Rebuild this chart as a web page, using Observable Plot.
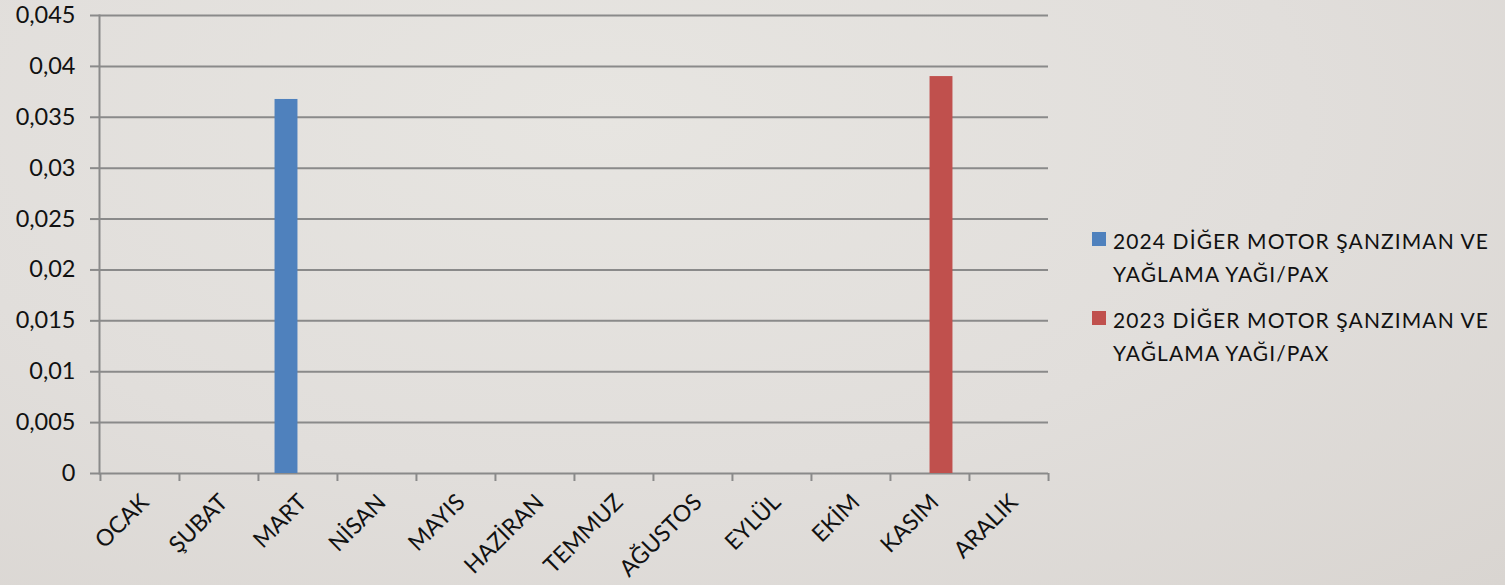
<!DOCTYPE html>
<html><head><meta charset="utf-8">
<script src="https://cdn.jsdelivr.net/npm/d3@7"></script>
<script src="https://cdn.jsdelivr.net/npm/@observablehq/plot@0.6"></script>
<style>
html,body{margin:0;padding:0;}
body{width:1505px;height:585px;overflow:hidden;position:relative;
  background:radial-gradient(ellipse at 40% 20%, #e7e5e1 0%, #e1dedb 55%, #d9d5d1 100%);
  font-family:Lato,"Open Sans",sans-serif;color:#111;}
#chart{position:absolute;left:0;top:0;}
#legend{position:absolute;left:1092px;top:224px;font-size:21px;line-height:33px;letter-spacing:1.1px;}
.item{display:flex;align-items:flex-start;margin-bottom:13px;}
.sw{width:14px;height:14px;margin-top:8px;margin-right:7px;flex:none;}
</style></head><body>
<div id="chart"></div>
<div id="legend"></div>
<script>
const months = ["OCAK","ŞUBAT","MART","NİSAN","MAYIS","HAZİRAN","TEMMUZ","AĞUSTOS","EYLÜL","EKİM","KASIM","ARALIK"];
const values2024 = [0,0,0.03675,0,0,0,0,0,0,0,0,0];
const values2023 = [0,0,0,0,0,0,0,0,0,0,0.0390,0];
const seriesLabels = [["2024 DİĞER MOTOR ŞANZIMAN VE","YAĞLAMA YAĞI/PAX"],["2023 DİĞER MOTOR ŞANZIMAN VE","YAĞLAMA YAĞI/PAX"]];
const seriesColors = ["#4f81bd","#c0504d"];
const yTicks = [0,0.005,0.01,0.015,0.02,0.025,0.03,0.035,0.04,0.045];

const W = 1505, H = 585, ML = 99, MR = 457, MT = 15, MB = 112;
const bw = (W - ML - MR) / months.length;
const barW = 23;
const gray = "#8a8a8a";
const fmt = d => String(+d.toFixed(3)).replace(".", ",");

const d2024 = months.map((m, i) => ({month: m, value: values2024[i]}));
const d2023 = months.map((m, i) => ({month: m, value: values2023[i]}));

const chart = Plot.plot({
  width: W, height: H,
  marginLeft: ML, marginRight: MR, marginTop: MT, marginBottom: MB,
  style: {background: "transparent", fontFamily: "Lato, 'Open Sans', sans-serif", fontSize: "23px", color: "#111"},
  x: {domain: months, padding: 0, label: null},
  y: {domain: [0, 0.045], label: null},
  marks: [
    Plot.gridY(yTicks, {stroke: gray, strokeOpacity: 1, strokeWidth: 2}),
    Plot.frame({anchor: "left", stroke: gray, strokeWidth: 2}),
    Plot.axisY({ticks: yTicks, tickSize: 9, tickPadding: 15, stroke: gray, strokeWidth: 2, tickFormat: fmt, fontSize: 23.5, fill: "#111"}),
    Plot.axisX({tickSize: 8, dx: -bw / 2, text: null, stroke: gray, strokeWidth: 2}),
    Plot.axisX({ticks: [months[months.length - 1]], tickSize: 8, dx: bw / 2, text: null, stroke: gray, strokeWidth: 2}),
    Plot.axisX({tickSize: 0, tickRotate: -45, tickPadding: 25, dx: 5, fontSize: 23, fill: "#111"}),
    Plot.barY(d2024, {x: "month", y: "value", fill: seriesColors[0], insetLeft: bw / 2 - barW, insetRight: bw / 2}),
    Plot.barY(d2023, {x: "month", y: "value", fill: seriesColors[1], insetLeft: bw / 2, insetRight: bw / 2 - barW})
  ]
});
document.getElementById("chart").appendChild(chart);

const legend = document.getElementById("legend");
seriesLabels.forEach((lines, i) => {
  const item = document.createElement("div");
  item.className = "item";
  const sw = document.createElement("div");
  sw.className = "sw";
  sw.style.background = seriesColors[i];
  const txt = document.createElement("div");
  txt.innerHTML = lines.join("<br>");
  item.appendChild(sw); item.appendChild(txt);
  legend.appendChild(item);
});
</script>
</body></html>
